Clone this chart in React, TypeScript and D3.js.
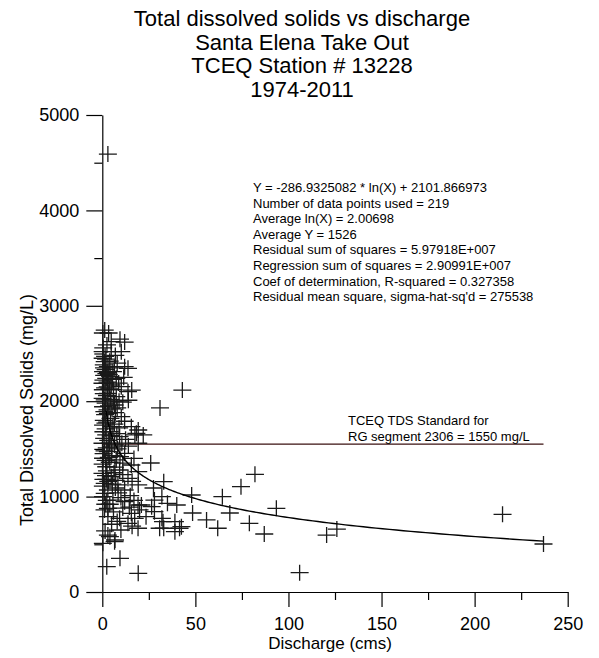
import React, { useEffect, useRef } from "react";
import * as d3 from "d3";

// title, stats and standard label texts
const titleLines = [
  "Total dissolved solids vs discharge",
  "Santa Elena Take Out",
  "TCEQ Station # 13228",
  "1974-2011",
];
const statsLines = [
  "Y = -286.9325082 * ln(X) + 2101.866973",
  "Number of data points used = 219",
  "Average ln(X) = 2.00698",
  "Average Y = 1526",
  "Residual sum of squares = 5.97918E+007",
  "Regression sum of squares = 2.90991E+007",
  "Coef of determination, R-squared = 0.327358",
  "Residual mean square, sigma-hat-sq'd = 275538",
];
const standardLines = ["TCEQ TDS Standard for", "RG segment 2306 = 1550 mg/L"];

const xTicks = [0, 50, 100, 150, 200, 250];
const xMinor = [25, 75, 125, 175, 225];
const yTicks = [0, 1000, 2000, 3000, 4000, 5000];
const yMinor = [500, 1500, 2500, 3500, 4500];

const tdsStandard = 1550;
const fitSlope = -286.9325082;
const fitIntercept = 2101.866973;
const fitStartX = 2;

// discharge (cms), grouped in bands of TDS
const discharge = [
  // scattered / high flow
  43, 31, 82, 74.5, 48, 64.5, 48.5, 68.5, 56, 42.5, 62, 79, 87, 93.5, 120.5, 126, 215, 237, 106, 40, 41.5, 39, 33, 26,
  33, 27.5, 32, 26.5, 28, 32, 23.5, 21, 28, 35, 30.8, 39, 32.6, 19.3, 22, 17.5, 15.8, 3,
  // 2500-2800
  1.3, 3.4, 0.3, 9.5, 4.8, 12, 0.5, 2.5, 0.2, 4.8, 10.2, 7, 1.5,
  // 2300-2500
  1.3, 12, 13.8, 3, 0.4, 5.7, 2, 0.8, 8, 4, 1.8, 6.5, 0.2, 3,
  // 2100-2300
  2.1, 7.5, 0.1, 4.8, 10.2, 13.8, 1, 3.5, 0.6, 2.8, 5.5, 1.5, 6, 8.8, 0.3, 3.8, 11.5, 2.2, 4.2,
  // 1900-2100
  3, 7.5, 1.3, 0.4, 6.6, 2.5, 0.8, 4.5, 9, 11, 1.8, 3.6, 5.2, 0.2, 2.8, 8, 14,
  // 1700-1900
  3, 10.2, 0.4, 5.7, 15.6, 1.5, 7, 0.8, 2.6, 4.4, 12, 6.5, 9, 1.8,
  // 1500-1700
  18.3, 2.1, 9.3, 0.1, 6.6, 19.3, 4, 1, 3.2, 7.8, 12.5, 5, 0.6, 14, 2.4, 10.5,
  // 1300-1500
  3, 12, 0.4, 7.5, 15.6, 2.1, 1.2, 5, 9.5, 0.2, 4, 6.8, 11, 17, 1.8, 3.5,
  // 1100-1300
  9.3, 0.1, 19.3, 4.8, 13.8, 1.3, 8.4, 19.3, 2.5, 0.6, 3.2, 6.3, 11, 16, 0.3, 5.4, 2, 7.2,
  // 900-1100
  3, 12, 1.3, 5.7, 12, 19.2, 0.4, 2.4, 8.5, 4, 15, 7, 10, 1.6, 17,
  // 700-900
  3, 15.6, 9.3, 17.4, 3, 13.8, 6, 11, 1.2, 8, 20, 5, 14.5,
  // below 700
  19.2, 3, 6.6, 0.3, 2.4, 9.5, 6.8, 4.1, 19.3, 10, 1.5, 16,
  // extra dense
  0.9, 2.9, 1.1, 4.6, 0.7, 2.3, 6, 3.9, 1.7, 8.2,
];

// total dissolved solids (mg/L), same order
const tds = [
  2117, 1930, 1234, 1104, 1017, 999, 828, 828, 755, 685, 668, 720, 608, 877, 597, 660, 814, 503, 203, 912, 668, 632, 668,
  1352, 1156, 1090, 1000, 894, 842, 772, 790, 912, 964, 930, 668, 737, 737, 1698, 1646, 1646, 2117, 4590,
  2746, 2715, 2715, 2650, 2624, 2620, 2560, 2590, 2519, 2519, 2519, 2480, 2470,
  2414, 2362, 2345, 2362, 2310, 2310, 2440, 2380, 2400, 2420, 2330, 2350, 2450, 2300,
  2240, 2240, 2188, 2170, 2152, 2100, 2270, 2280, 2220, 2200, 2230, 2140, 2120, 2190, 2120, 2130, 2250, 2290, 2260,
  2083, 2047, 2013, 1942, 1960, 2060, 2080, 2020, 2000, 1990, 1980, 1950, 1920, 2030, 1910, 1930, 2010,
  1873, 1838, 1750, 1733, 1733, 1860, 1880, 1800, 1780, 1820, 1790, 1760, 1720, 1710,
  1663, 1646, 1628, 1559, 1541, 1559, 1680, 1610, 1590, 1660, 1600, 1520, 1680, 1530, 1510, 1560,
  1471, 1454, 1402, 1384, 1331, 1313, 1480, 1430, 1420, 1340, 1360, 1310, 1350, 1400, 1380, 1410,
  1279, 1244, 1261, 1209, 1192, 1139, 1122, 1122, 1270, 1180, 1160, 1250, 1230, 1160, 1110, 1130, 1220, 1170,
  1069, 1069, 1034, 964, 947, 912, 1000, 960, 1040, 920, 1010, 1090, 990, 920, 960,
  877, 825, 772, 772, 790, 720, 840, 880, 860, 740, 860, 710, 890,
  668, 597, 527, 510, 265, 353, 545, 580, 196, 650, 640, 690,
  2350, 2150, 1890, 1640, 1450, 1180, 2000, 1560, 1770, 1500,
];

const font = "'Liberation Sans', Arial, sans-serif";

export default function App() {
  const ref = useRef<SVGSVGElement>(null);

  useEffect(() => {
    const svg = d3.select(ref.current);
    svg.selectAll("*").remove();

    const x = d3.scaleLinear().domain([0, 250]).range([102.3, 567.7]);
    const y = d3.scaleLinear().domain([0, 5000]).range([592, 115]);

    // title
    svg
      .append("g")
      .selectAll("text")
      .data(titleLines)
      .enter()
      .append("text")
      .attr("x", 302)
      .attr("y", (d, i) => 26 + i * 23.7)
      .attr("text-anchor", "middle")
      .attr("font-size", 22)
      .text((d) => d);

    // x axis
    const gx = svg.append("g").attr("transform", `translate(0,${y(0)})`);
    gx.call(
      d3.axisBottom(x).tickValues(xTicks).tickSize(15).tickSizeOuter(0).tickPadding(10).tickFormat(d3.format("d"))
    );
    gx.append("g").call(
      d3.axisBottom(x).tickValues(xMinor).tickSize(8).tickFormat(() => "")
    ).select(".domain").remove();

    // y axis
    const gy = svg.append("g").attr("transform", `translate(${x(0)},0)`);
    gy.call(
      d3.axisLeft(y).tickValues(yTicks).tickSize(16).tickSizeOuter(0).tickPadding(7).tickFormat(d3.format("d"))
    );
    gy.append("g").call(
      d3.axisLeft(y).tickValues(yMinor).tickSize(8).tickFormat(() => "")
    ).select(".domain").remove();

    svg.selectAll(".tick text").attr("font-size", 18).attr("font-family", font).attr("fill", "#000");
    svg.selectAll(".tick line, .domain").attr("stroke", "#000").attr("stroke-width", 1.2);

    // axis titles
    svg
      .append("text")
      .attr("x", 330)
      .attr("y", 649)
      .attr("text-anchor", "middle")
      .attr("font-size", 17)
      .text("Discharge (cms)");
    svg
      .append("text")
      .attr("transform", "translate(33,410) rotate(-90)")
      .attr("text-anchor", "middle")
      .attr("font-size", 18)
      .text("Total Dissolved Solids (mg/L)");

    // standard line
    const maxX = d3.max(discharge) as number;
    svg
      .append("line")
      .attr("x1", x(0))
      .attr("x2", x(maxX))
      .attr("y1", y(tdsStandard))
      .attr("y2", y(tdsStandard))
      .attr("stroke", "#3a1010")
      .attr("stroke-width", 1.3);
    svg
      .append("g")
      .selectAll("text")
      .data(standardLines)
      .enter()
      .append("text")
      .attr("x", 348)
      .attr("y", (d, i) => 425 + i * 15.5)
      .attr("font-size", 13)
      .text((d) => d);

    // data points as crosses
    svg
      .append("g")
      .selectAll("path")
      .data(discharge.map((d, i) => [d, tds[i]]))
      .enter()
      .append("path")
      .attr("transform", (d) => `translate(${x(d[0])},${y(d[1])})`)
      .attr("d", "M-9,0H9M0,-8V8")
      .attr("stroke", "#1a1a1a")
      .attr("stroke-width", 1.3)
      .attr("fill", "none");

    // fitted log curve
    const curveX = d3.range(0, 201).map((i) => fitStartX * Math.pow(maxX / fitStartX, i / 200));
    svg
      .append("path")
      .datum(curveX)
      .attr("d", d3.line<number>().x((d) => x(d)).y((d) => y(fitSlope * Math.log(d) + fitIntercept)))
      .attr("fill", "none")
      .attr("stroke", "#000")
      .attr("stroke-width", 1.4);

    // regression stats
    svg
      .append("g")
      .selectAll("text")
      .data(statsLines)
      .enter()
      .append("text")
      .attr("x", 253)
      .attr("y", (d, i) => 192 + i * 15.6)
      .attr("font-size", 13)
      .text((d) => d);
  }, []);

  return (
    <svg
      ref={ref}
      width={599}
      height={658}
      style={{ position: "absolute", left: 0, top: 0, background: "#fff", fontFamily: font }}
    />
  );
}
